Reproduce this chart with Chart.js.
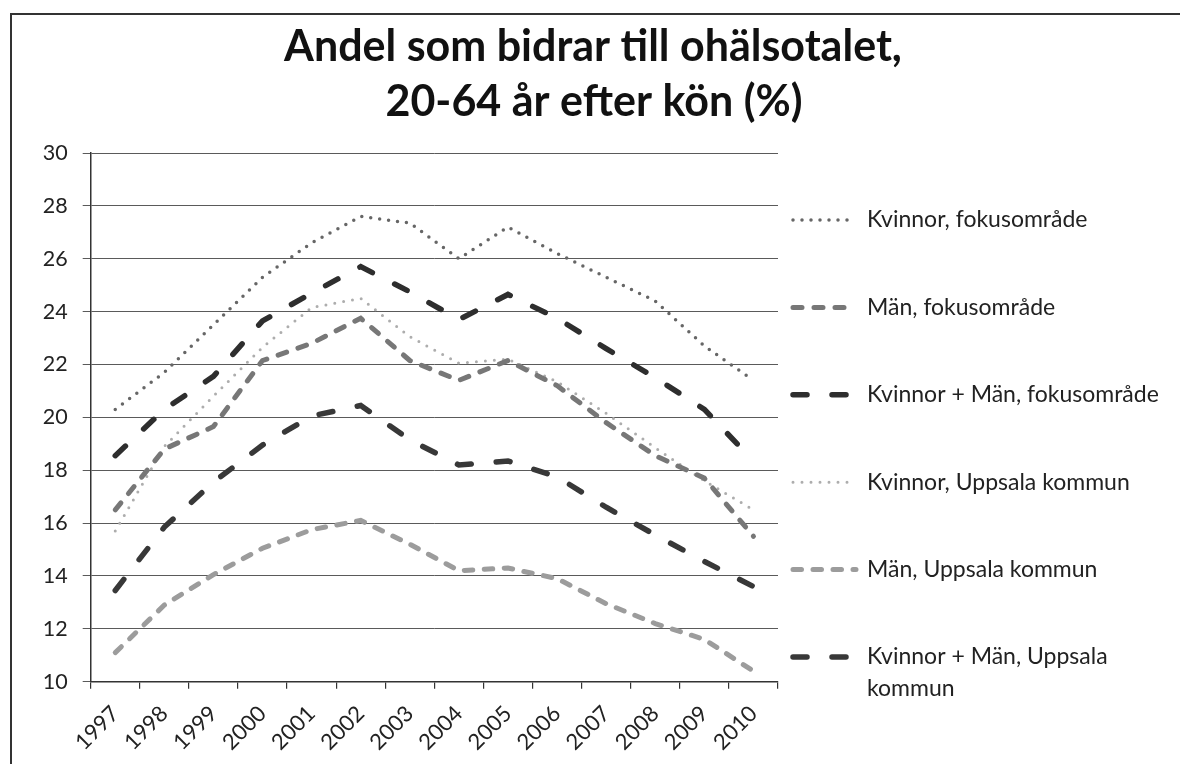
<!DOCTYPE html>
<html>
<head>
<meta charset="utf-8">
<script src="https://cdn.jsdelivr.net/npm/chart.js@4.4.0/dist/chart.umd.min.js"></script>
<style>
  html, body { margin: 0; padding: 0; background: #fff; }
  #wrap { position: relative; width: 1180px; height: 764px; overflow: hidden; }
  #frame { position: absolute; left: 10px; top: 13px; width: 1200px; height: 800px;
           border-left: 2px solid #333; border-top: 2px solid #333; box-sizing: border-box; }
  canvas { position: absolute; left: 0; top: 0; }
</style>
</head>
<body>
<div id="wrap">
  <div id="frame"></div>
  <canvas id="chart" width="1180" height="764"></canvas>
</div>
<script>
// Title and categories
const titleLines = ['Andel som bidrar till ohälsotalet,', '20-64 år efter kön (%)'];
const years = ['1997', '1998', '1999', '2000', '2001', '2002', '2003',
               '2004', '2005', '2006', '2007', '2008', '2009', '2010'];

// Series values (percent)
const kvinnorFokus  = [20.3, 21.7, 23.5, 25.3, 26.6, 27.6, 27.35, 26.0, 27.2, 26.2, 25.3, 24.4, 22.7, 21.4];
const manFokus      = [16.5, 18.8, 19.65, 22.15, 22.8, 23.75, 22.15, 21.4, 22.15, 21.2, 19.8, 18.55, 17.7, 15.5];
const allaFokus     = [18.55, 20.3, 21.55, 23.65, 24.7, 25.7, 24.75, 23.7, 24.65, 23.75, 22.6, 21.5, 20.3, 18.35];
const kvinnorUppsala = [15.7, 18.9, 20.8, 22.65, 24.15, 24.5, 23.05, 22.05, 22.2, 21.35, 20.15, 18.85, 17.6, 16.5];
const manUppsala    = [11.1, 12.9, 14.05, 15.05, 15.75, 16.1, 15.2, 14.2, 14.3, 13.9, 12.95, 12.2, 11.6, 10.4];
const allaUppsala   = [13.45, 15.85, 17.55, 18.95, 20.05, 20.45, 19.15, 18.2, 18.35, 17.75, 16.6, 15.55, 14.55, 13.6];

const seriesNames = [
  'Kvinnor, fokusområde',
  'Män, fokusområde',
  'Kvinnor + Män, fokusområde',
  'Kvinnor, Uppsala kommun',
  'Män, Uppsala kommun',
  'Kvinnor + Män, Uppsala kommun'
];

// y axis range
const yMin = 10, yMax = 30, yStep = 2;

const FONT = 'Lato, "Open Sans", sans-serif';

// line looks for each series (dotted / dashed, greys like the scan)
const dotted = (color, w) => ({ borderColor: color, borderWidth: w, borderDash: [0, 9], borderCapStyle: 'round' });
const dashed = (color, w, dash) => ({ borderColor: color, borderWidth: w, borderDash: dash, borderCapStyle: 'round' });

const styles = [
  dotted('#666666', 3.5),
  dashed('#777777', 5, [9, 12]),
  dashed('#2e2e2e', 5.5, [14, 25]),
  dotted('#adadad', 3),
  dashed('#9c9c9c', 5, [8.5, 11.5]),
  dashed('#383838', 5.5, [14, 25])
];
const values = [kvinnorFokus, manFokus, allaFokus, kvinnorUppsala, manUppsala, allaUppsala];

const datasets = values.map((v, i) => Object.assign({
  label: seriesNames[i],
  data: v,
  fill: false,
  tension: 0,
  pointRadius: 0,
  pointHoverRadius: 0
}, styles[i]));

// Title drawn at the exact place it sits in the picture
const titlePlugin = {
  id: 'bigTitle',
  afterDraw(chart) {
    const ctx = chart.ctx;
    ctx.save();
    ctx.fillStyle = '#111';
    ctx.font = 'bold 43px ' + FONT;
    ctx.textAlign = 'center';
    ctx.textBaseline = 'alphabetic';
    ctx.fillText(titleLines[0], 593, 61);
    ctx.fillText(titleLines[1], 594, 116);
    ctx.restore();
  }
};

// Legend on the right, one row per series, long names wrap
const legendPlugin = {
  id: 'sideLegend',
  afterDraw(chart) {
    const ctx = chart.ctx;
    const x0 = 793, x1 = 856, tx = 867, maxW = 310;
    ctx.save();
    chart.data.datasets.forEach((ds, i) => {
      const y = 220 + i * 87.4;
      ctx.beginPath();
      ctx.strokeStyle = ds.borderColor;
      ctx.lineWidth = ds.borderWidth;
      ctx.lineCap = ds.borderCapStyle;
      ctx.setLineDash(ds.borderDash);
      ctx.moveTo(x0, y);
      ctx.lineTo(x1, y);
      ctx.stroke();
      ctx.setLineDash([]);

      ctx.fillStyle = '#222';
      ctx.font = '23px ' + FONT;
      ctx.textAlign = 'left';
      ctx.textBaseline = 'middle';
      const words = ds.label.split(' ');
      const lines = [];
      let cur = '';
      words.forEach(w => {
        const t = cur ? cur + ' ' + w : w;
        if (ctx.measureText(t).width > maxW && cur) { lines.push(cur); cur = w; }
        else cur = t;
      });
      lines.push(cur);
      lines.forEach((l, k) => ctx.fillText(l, tx, y + k * 31.5));
    });
    ctx.restore();
  }
};

new Chart(document.getElementById('chart'), {
  type: 'line',
  data: { labels: years, datasets: datasets },
  options: {
    responsive: false,
    animation: false,
    layout: { padding: { top: 153, right: 402, bottom: 0, left: 0 } },
    plugins: {
      legend: { display: false },
      title: { display: false },
      tooltip: { enabled: false }
    },
    scales: {
      x: {
        type: 'category',
        offset: true,
        grid: { display: true, offset: true, drawOnChartArea: false, drawTicks: true,
                tickLength: 7, color: '#333', lineWidth: 1.2 },
        border: { display: true, color: '#333', width: 1.5 },
        ticks: { color: '#222', font: { family: FONT, size: 22 }, minRotation: 45, maxRotation: 45,
                 padding: 12, autoSkip: false },
        afterFit(scale) { scale.height = 82.3; }
      },
      y: {
        min: yMin,
        max: yMax,
        grid: { color: '#5a5a5a', lineWidth: 1, tickLength: 8, drawTicks: true },
        border: { display: true, color: '#333', width: 1.5 },
        ticks: { stepSize: yStep, color: '#222', font: { family: FONT, size: 21.5 }, padding: 15 },
        afterFit(scale) { scale.width = 90.7; }
      }
    }
  },
  plugins: [titlePlugin, legendPlugin]
});
</script>
</body>
</html>
